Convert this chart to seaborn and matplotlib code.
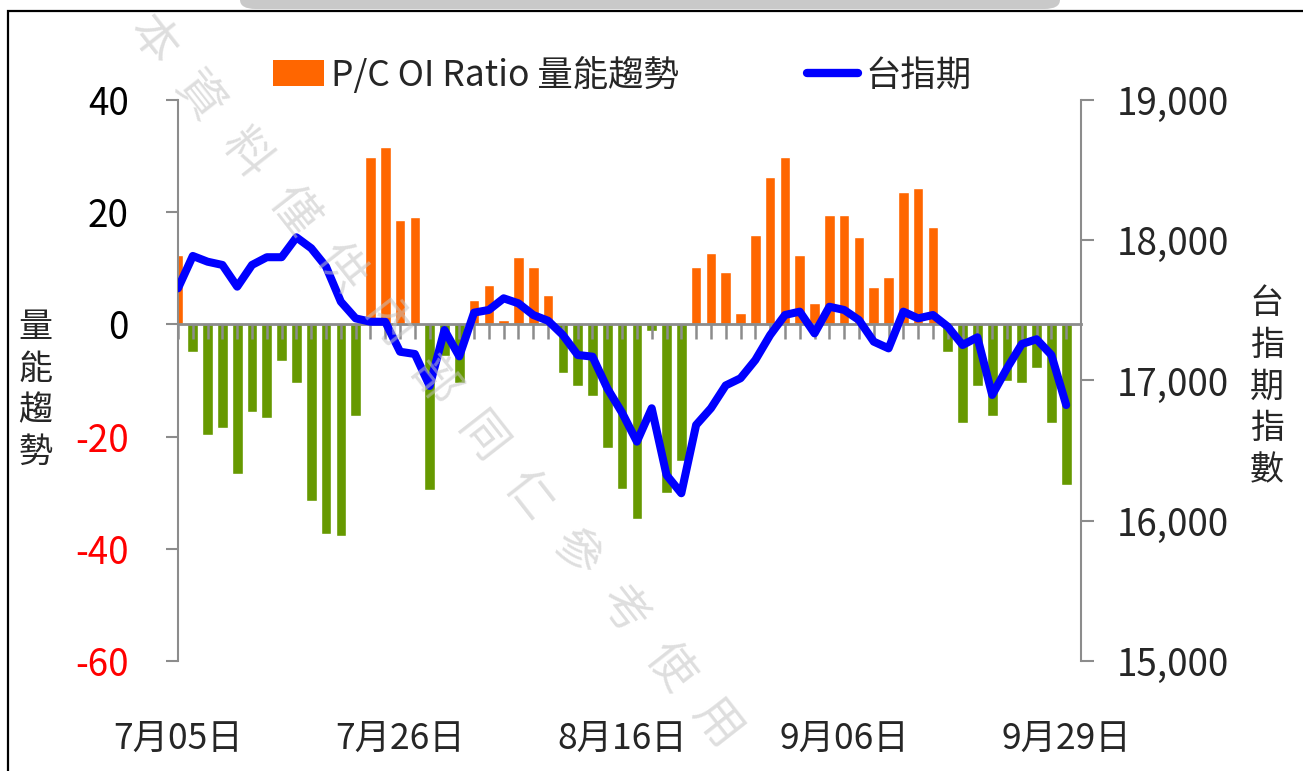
import numpy as np
import pandas as pd
import matplotlib
matplotlib.use("Agg")
import matplotlib.pyplot as plt
import seaborn as sns
from matplotlib.patches import Patch, Rectangle, FancyBboxPatch
from matplotlib.lines import Line2D
from matplotlib.ticker import FuncFormatter

# ---------------- data ----------------
pc_ratio = [12.3, -5.0, -19.8, -18.4, -26.6, -15.7, -16.6, -6.5, -10.4, -31.4,
            -37.3, -37.7, -16.3, 29.9, 31.7, 18.6, 19.1, -29.6, -5.6, -10.4,
            4.3, 7.0, 0.8, 12.0, 10.2, 5.2, -8.6, -10.9, -12.7, -22.0,
            -29.3, -34.6, -1.1, -30.1, -24.3, 10.2, 12.8, 9.3, 2.1, 15.9,
            26.2, 29.9, 12.4, 3.9, 19.5, 19.5, 15.5, 6.6, 8.4, 23.6,
            24.4, 17.3, -5.0, -17.5, -10.9, -16.3, -10.0, -10.4, -7.7, -17.5,
            -28.7]
taiex_fut = [17657, 17888, 17847, 17824, 17669, 17824, 17879, 17879, 18021, 17943,
             17812, 17562, 17443, 17419, 17419, 17205, 17189, 16961, 17360, 17172,
             17484, 17503, 17586, 17550, 17467, 17426, 17324, 17182, 17170, 16944,
             16770, 16564, 16802, 16326, 16196, 16683, 16802, 16965, 17016, 17146,
             17324, 17467, 17491, 17336, 17526, 17503, 17431, 17277, 17229, 17491,
             17443, 17467, 17384, 17253, 17308, 16897, 17087, 17260, 17294, 17182,
             16825]
date_labels = ["7月05日", "7月26日", "8月16日", "9月06日", "9月29日"]
date_label_idx = [0, 15, 30, 45, 60]
left_ticks = [40, 20, 0, -20, -40, -60]
right_ticks = [19000, 18000, 17000, 16000, 15000]
bar_label = "P/C OI Ratio 量能趨勢"
line_label = "台指期"
left_ylabel = "量能趨勢"
right_ylabel = "台指期指數"
watermark = "本資料僅供內部同仁參考使用"

# ---------------- style ----------------
sns.set_theme(style="white")
plt.rcParams['font.family'] = ['Noto Sans CJK TC', 'DejaVu Sans']
plt.rcParams['axes.unicode_minus'] = False

ORANGE = "#FF6600"
GREEN = "#669900"
BLUE = "#0000FF"
GRAY = "#8C8C8C"

W, H = 1303, 771
fig = plt.figure(figsize=(W / 100, H / 100), dpi=100)


def fx(px):
    return px / W


def fy(py):
    return 1 - py / H


# top gray decoration and frame
fig.add_artist(FancyBboxPatch((fx(240), fy(9)), fx(1060) - fx(240), 0.05,
                              boxstyle="round,pad=0,rounding_size=0.012",
                              transform=fig.transFigure, facecolor="#c9c9c9",
                              edgecolor="none", zorder=0))
fig.add_artist(Rectangle((fx(8), -0.05), 1.1, fy(11) + 0.05, transform=fig.transFigure,
                         fill=False, edgecolor="black", linewidth=1.6, zorder=1))

ax = fig.add_axes([fx(178), fy(661), fx(1081) - fx(178), fy(100) - fy(661)])

n = len(pc_ratio)
df = pd.DataFrame({"idx": np.arange(n), "val": pc_ratio})
df["sign"] = np.where(df["val"] >= 0, "pos", "neg")
sns.barplot(data=df, x="idx", y="val", hue="sign",
            palette={"pos": ORANGE, "neg": GREEN}, dodge=False, width=0.72,
            native_scale=True, saturation=1, errorbar=None, legend=False, ax=ax)

ax.set_xlim(0, n)
ax.set_ylim(-60, 40)
ax.set_xlabel("")
ax.set_ylabel("")
ax.set_yticks(left_ticks)
ax.set_yticklabels([str(v) for v in left_ticks])
for lbl, v in zip(ax.get_yticklabels(), left_ticks):
    lbl.set_color("#FF0000" if v < 0 else "black")
ax.set_xticks(date_label_idx)
ax.set_xticklabels(date_labels)
ax.tick_params(axis="x", length=0, pad=43, labelsize=25.5)
ax.tick_params(axis="y", direction="out", length=8.5, width=1.5, color=GRAY,
               pad=27, labelsize=26.5)
for s in ["top", "bottom", "right"]:
    ax.spines[s].set_visible(False)
ax.spines["left"].set_color(GRAY)
ax.spines["left"].set_linewidth(1.5)
ax.grid(False)

# zero line with category ticks
sec = ax.secondary_xaxis(0, transform=ax.transData)
sec.set_alignment("bottom")
sec.set_xticks(np.arange(n))
sec.tick_params(axis="x", direction="out", length=10.5, width=1.8, color=GRAY,
                labelbottom=False, labeltop=False)
sec.spines["bottom"].set_color(GRAY)
sec.spines["bottom"].set_linewidth(2.0)
sec.set_zorder(2.5)

# right axis line
ax2 = ax.twinx()
sns.lineplot(x=np.arange(n), y=taiex_fut, ax=ax2, color=BLUE, linewidth=5.8,
             legend=False)
for ln in ax2.lines:
    ln.set_solid_joinstyle("round")
    ln.set_solid_capstyle("round")
ax2.set_xlim(0, n)
ax2.set_ylim(15000, 19000)
ax2.set_yticks(right_ticks)
ax2.yaxis.set_major_formatter(FuncFormatter(lambda v, p: f"{v:,.0f}"))
ax2.tick_params(axis="y", direction="out", length=9, width=1.5, color=GRAY,
                pad=17, labelsize=26.5)
for s in ["top", "bottom", "left"]:
    ax2.spines[s].set_visible(False)
ax2.spines["right"].set_color(GRAY)
ax2.spines["right"].set_linewidth(1.5)
ax2.set_ylabel("")
ax2.grid(False)

# axis titles (stacked characters)
fig.text(fx(35), fy(390), "\n".join(left_ylabel), ha="center", va="center",
         fontsize=24.5, linespacing=1.25)
fig.text(fx(1267), fy(387), "\n".join(right_ylabel), ha="center", va="center",
         fontsize=24.5, linespacing=1.25)

# legend
handles = [Patch(facecolor=ORANGE, edgecolor="none"),
           Line2D([], [], color=BLUE, linewidth=6, solid_capstyle="round")]
fig.legend(handles, [bar_label, line_label], ncol=2, loc="center left",
           bbox_to_anchor=(fx(273), fy(75)), frameon=False, fontsize=25.5,
           handlelength=1.45, handleheight=0.75, handletextpad=0.2,
           columnspacing=3.6, borderpad=0, borderaxespad=0)

# watermark
x0, y0, dx, dy = 152, 40, 47, 57
for i, ch in enumerate(watermark):
    fig.text(fx(x0 + i * dx), fy(y0 + i * dy), ch, rotation=-52,
             rotation_mode="anchor", ha="center", va="center", fontsize=34,
             color="#c4c4c4", alpha=0.55, zorder=10)

fig.savefig("out.png", dpi=100)
